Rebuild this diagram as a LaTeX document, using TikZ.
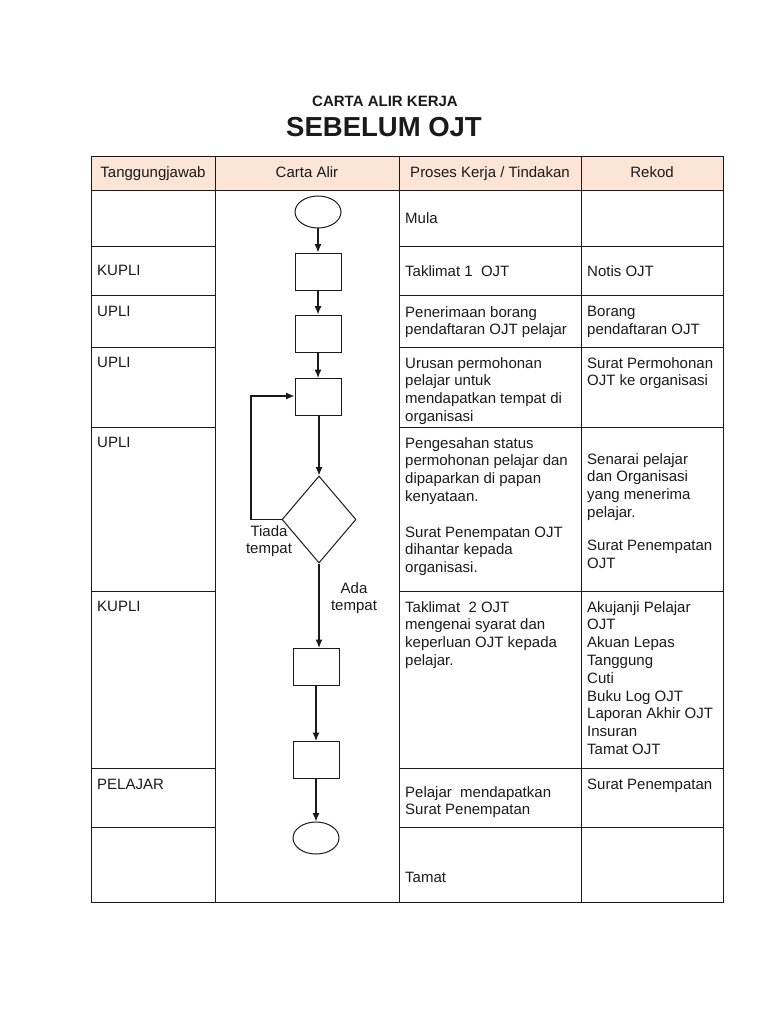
\documentclass[tikz,border=0pt]{standalone}
\usepackage{fontspec}
\setmainfont{Liberation Sans}
\usetikzlibrary{shapes.geometric,arrows.meta}
\definecolor{hdr}{HTML}{FCE4D6}
\definecolor{ink}{HTML}{1A1A1A}
\tikzset{
  grid/.style={draw=ink, line width=0.9pt},
  txt/.style={anchor=north west, align=left, inner sep=0pt, text=ink, font=\fontsize{15}{17.8}\selectfont},
  hd/.style={anchor=base, inner sep=0pt, text=ink, font=\fontsize{15}{17.8}\selectfont},
  lbl/.style={anchor=center, align=center, inner sep=0pt, text=ink, font=\fontsize{15}{17.2}\selectfont},
  procbox/.style={draw=ink, line width=1pt, rectangle, minimum width=46pt, minimum height=37pt, inner sep=0pt},
  term/.style={draw=ink, line width=1pt, ellipse, minimum width=46pt, minimum height=32pt, inner sep=0pt},
  decide/.style={draw=ink, line width=1pt, diamond, minimum width=74pt, minimum height=87pt, inner sep=0pt},
  flow/.style={draw=ink, line width=1.1pt, -{Latex[length=8.5pt,width=7pt]}}
}
\begin{document}
\begin{tikzpicture}[x=1pt,y=-1pt]
\useasboundingbox (0,0) rectangle (768,1024);
% titles
\node[inner sep=0pt, text=ink, font=\fontsize{15}{17}\bfseries\selectfont] (t1) at (385,101) {CARTA ALIR KERJA};
\node[inner sep=0pt, text=ink, font=\fontsize{27.5}{30}\bfseries\selectfont] (t2) at (384,127) {SEBELUM OJT};
% header
\fill[hdr] (91,156) rectangle (723,190);
% table grid
\draw[grid] (91,156) rectangle (723,902);
\draw[grid] (91,190) -- (723,190);
\foreach \x in {215,399,581} \draw[grid] (\x,156) -- (\x,902);
\foreach \y in {246,295,347,427,591,768,827} {
  \draw[grid] (91,\y) -- (215,\y);
  \draw[grid] (399,\y) -- (723,\y);
}
% header text
\node[hd] (h1) at (153,178) {Tanggungjawab};
\node[hd] (h2) at (307,178) {Carta Alir};
\node[hd] (h3) at (490,178) {Proses Kerja / Tindakan};
\node[hd] (h4) at (652,178) {Rekod};
% column 1
\node[txt] (r2a) at (97,265) {KUPLI};
\node[txt] (r3a) at (97,306) {UPLI};
\node[txt] (r4a) at (97,357) {UPLI};
\node[txt] (r5a) at (97,437) {UPLI};
\node[txt] (r6a) at (97,601) {KUPLI};
\node[txt] (r7a) at (97,779) {PELAJAR};
% column 3
\node[txt] (r1c) at (405,212) {Mula};
\node[txt] (r2c) at (405,265) {Taklimat 1\ \ OJT};
\node[txt] (r3c) at (405,306) {Penerimaan borang\\pendaftaran OJT pelajar};
\node[txt] (r4c) at (405,357) {Urusan permohonan\\pelajar untuk\\mendapatkan tempat di\\organisasi};
\node[txt] (r5c) at (405,437) {Pengesahan status\\permohonan pelajar dan\\dipaparkan di papan\\kenyataan.\\[17.8pt]Surat Penempatan OJT\\dihantar kepada\\organisasi.};
\node[txt] (r6c) at (405,601) {Taklimat\ \ 2 OJT\\mengenai syarat dan\\keperluan OJT kepada\\pelajar.};
\node[txt] (r7c) at (405,786) {Pelajar\ \ mendapatkan\\Surat Penempatan};
\node[txt] (r8c) at (405,872) {Tamat};
% column 4
\node[txt] (r2d) at (587,265) {Notis OJT};
\node[txt] (r3d) at (587,306) {Borang\\pendaftaran OJT};
\node[txt] (r4d) at (587,357) {Surat Permohonan\\OJT ke organisasi};
\node[txt] (r5d) at (587,453) {Senarai pelajar\\dan Organisasi\\yang menerima\\pelajar.\\[15pt]Surat Penempatan\\OJT};
\node[txt] (r6d) at (587,601) {Akujanji Pelajar\\OJT\\Akuan Lepas\\Tanggung\\Cuti\\Buku Log OJT\\Laporan Akhir OJT\\Insuran\\Tamat OJT};
\node[txt] (r7d) at (587,779) {Surat Penempatan};
% flowchart
\node[term] (start) at (318,212) {};
\node[procbox] (b1) at (318,271.5) {};
\node[procbox] (b2) at (318,333.5) {};
\node[procbox] (b3) at (318,397) {};
\node[decide] (dec) at (319,519.5) {};
\node[procbox] (b4) at (316,667) {};
\node[procbox] (b5) at (316,760) {};
\node[term] (stop) at (316,838) {};
\coordinate (lp1) at (251,519.5);
\coordinate (lp2) at (251,396);
\draw[flow] (start) -- (b1);
\draw[flow] (b1) -- (b2);
\draw[flow] (b2) -- (b3);
\draw[flow] (b3.south -| dec.north) -- (dec.north);
\draw[flow] (dec.west) -- (lp1) -- (lp2) -- (lp2 -| b3.west);
\draw[flow] (dec.south) -- (dec.south |- b4.north);
\draw[flow] (b4) -- (b5);
\draw[flow] (b5) -- (stop);
\node[lbl] (tiada) at (269,541) {Tiada\\tempat};
\node[lbl] (ada) at (354,598) {Ada\\tempat};
\end{tikzpicture}
\end{document}
